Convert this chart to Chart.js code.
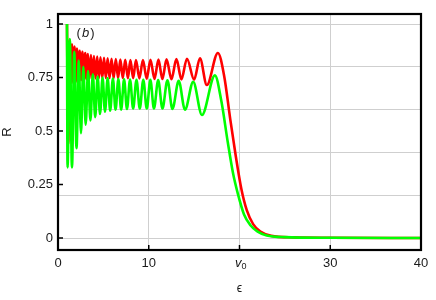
<!DOCTYPE html>
<html>
<head>
<meta charset="utf-8">
<script src="https://cdn.jsdelivr.net/npm/chart.js@4.4.1/dist/chart.umd.min.js"></script>
<style>
  body { margin: 0; background: #fff; }
  canvas { display: block; }
</style>
</head>
<body>
<canvas id="chart" width="436" height="300"></canvas>
<script>
// DATA
const xTicks = [0, 10, 20, 30, 40];
const yLabels = [0, 0.25, 0.5, 0.75, 1];
const yGrid = [0, 0.2, 0.4, 0.6, 0.8, 1];

const redX = [0.99, 1.13, 1.27, 1.40, 1.54, 1.68, 1.82, 1.95, 2.09, 2.24, 2.39, 2.54, 2.69, 2.85, 3.0, 3.15,
  3.30, 3.47, 3.63, 3.80, 3.96, 4.14, 4.32, 4.50, 4.68, 4.88, 5.07, 5.27, 5.47, 5.68, 5.90, 6.13, 6.37, 6.62,
  6.87, 7.14, 7.41, 7.70, 7.98, 8.28, 8.59, 8.97, 9.36, 9.77, 10.19, 10.63, 11.07, 11.5, 11.96, 12.5, 13.05,
  13.6, 14.21, 15.0, 15.64, 16.4, 17.62, 18.3, 19.0, 19.6, 20.2, 20.8, 21.5, 22.3, 23.5, 26, 30, 40];
const redY = [1.0, 0.44, 0.92, 0.72, 0.905, 0.725, 0.895, 0.73, 0.885, 0.735, 0.875, 0.738, 0.87, 0.74, 0.865, 0.742,
  0.86, 0.744, 0.855, 0.745, 0.85, 0.746, 0.848, 0.747, 0.845, 0.748, 0.842, 0.748, 0.84, 0.748, 0.838, 0.748, 0.836, 0.748,
  0.834, 0.748, 0.833, 0.747, 0.832, 0.747, 0.832, 0.746, 0.832, 0.745, 0.833, 0.744, 0.834, 0.743, 0.835, 0.742, 0.836,
  0.741, 0.838, 0.74, 0.84, 0.715, 0.865, 0.76, 0.55, 0.38, 0.23, 0.13, 0.065, 0.03, 0.01, 0.003, 0.001, 0];

const greenX = [0.99, 1.05, 1.30, 1.54, 1.79, 2.04, 2.29, 2.53, 2.79, 3.05, 3.31, 3.57, 3.84, 4.10, 4.37, 4.63,
  4.91, 5.18, 5.47, 5.75, 6.05, 6.34, 6.65, 6.96, 7.28, 7.60, 7.94, 8.28, 8.65, 9.01, 9.40, 9.78, 10.18, 10.57,
  11.04, 11.51, 12.06, 12.61, 13.3, 13.99, 14.9, 15.86, 17.29, 18.0, 18.7, 19.3, 19.8, 20.5, 21.2, 22.0, 23, 25, 30, 40];
const greenY = [1.0, 0.33, 0.93, 0.33, 0.87, 0.42, 0.83, 0.49, 0.80, 0.53, 0.78, 0.55, 0.765, 0.565, 0.755, 0.58,
  0.75, 0.59, 0.748, 0.595, 0.745, 0.60, 0.743, 0.60, 0.742, 0.603, 0.741, 0.605, 0.74, 0.605, 0.74, 0.605, 0.739, 0.605,
  0.738, 0.605, 0.737, 0.603, 0.735, 0.60, 0.73, 0.575, 0.76, 0.64, 0.45, 0.30, 0.21, 0.11, 0.06, 0.03, 0.012, 0.004, 0.001, 0];

const FONT = "'Liberation Sans', Arial, 'DejaVu Sans', sans-serif";
const TXT = '#1a1a1a';

function pts(xs, ys) { return xs.map((x, i) => ({ x, y: ys[i] })); }
function near(v, list) { return list.some(t => Math.abs(t - v) < 1e-6); }

// frame, inward ticks, v0 label, panel label
const decor = {
  id: 'decor',
  afterDraw(chart) {
    const { ctx, chartArea: a, scales: { x, y } } = chart;
    ctx.save();
    ctx.strokeStyle = '#000';
    ctx.lineWidth = 1.5;
    ctx.beginPath();
    xTicks.forEach(v => {
      const px = x.getPixelForValue(v);
      ctx.moveTo(px, a.bottom); ctx.lineTo(px, a.bottom - 5);
    });
    yLabels.forEach(v => {
      const py = y.getPixelForValue(v);
      ctx.moveTo(a.left, py); ctx.lineTo(a.left + 5, py);
    });
    ctx.stroke();
    ctx.lineWidth = 2.2;
    ctx.strokeRect(a.left, a.top, a.right - a.left, a.bottom - a.top);

    ctx.fillStyle = TXT;
    ctx.textBaseline = 'middle';
    // v0 tick label
    const vx = x.getPixelForValue(20);
    ctx.font = 'italic 13px ' + FONT;
    ctx.textAlign = 'right';
    ctx.fillText('v', vx + 2, a.bottom + 13);
    ctx.font = '9px ' + FONT;
    ctx.textAlign = 'left';
    ctx.fillText('0', vx + 2, a.bottom + 17);

    // (b)
    let px = x.getPixelForValue(2.05);
    const py = y.getPixelForValue(0.955);
    ctx.font = '13px ' + FONT;
    ctx.fillText('(', px, py); px += ctx.measureText('(').width + 1;
    ctx.font = 'italic 13px ' + FONT;
    ctx.fillText('b', px, py); px += ctx.measureText('b').width + 1;
    ctx.font = '13px ' + FONT;
    ctx.fillText(')', px, py);
    ctx.restore();
  }
};

new Chart(document.getElementById('chart'), {
  type: 'scatter',
  data: {
    datasets: [
      { data: pts(greenX, greenY), borderColor: '#00ff00', borderWidth: 2.6, showLine: true,
        pointRadius: 0, cubicInterpolationMode: 'monotone' },
      { data: pts(redX, redY), borderColor: '#ff0000', borderWidth: 2.6, showLine: true,
        pointRadius: 0, cubicInterpolationMode: 'monotone' }
    ]
  },
  options: {
    responsive: false,
    animation: false,
    layout: { padding: { top: 14, right: 15, left: 0, bottom: 0 } },
    plugins: { legend: { display: false }, tooltip: { enabled: false } },
    scales: {
      x: {
        type: 'linear', min: 0, max: 40,
        afterBuildTicks: s => { s.ticks = xTicks.map(v => ({ value: v })); },
        afterFit: s => { s.height = 50; },
        ticks: { autoSkip: false, maxRotation: 0, padding: 6, color: TXT, font: { family: FONT, size: 13 },
          callback: v => v === 20 ? '' : String(v) },
        grid: { color: '#cfcfcf', lineWidth: 1, drawTicks: false },
        border: { display: false },
        title: { display: true, text: 'ϵ', color: TXT, font: { family: FONT, size: 12 }, padding: { top: 4, bottom: 4 } }
      },
      y: {
        min: -0.056, max: 1.047,
        afterBuildTicks: s => {
          s.ticks = [...new Set([...yGrid, ...yLabels])].sort((a, b) => a - b).map(v => ({ value: v }));
        },
        afterFit: s => { s.width = 58; },
        ticks: { autoSkip: false, padding: 5, color: TXT, font: { family: FONT, size: 13 },
          callback: v => near(v, yLabels) ? String(v) : '' },
        grid: { drawTicks: false, lineWidth: 1,
          color: c => near(c.tick.value, yGrid) ? '#cfcfcf' : 'rgba(0,0,0,0)' },
        border: { display: false },
        title: { display: true, text: 'R', color: TXT, font: { family: FONT, size: 13 }, padding: { top: 0, bottom: 2 } }
      }
    }
  },
  plugins: [decor]
});
</script>
</body>
</html>
